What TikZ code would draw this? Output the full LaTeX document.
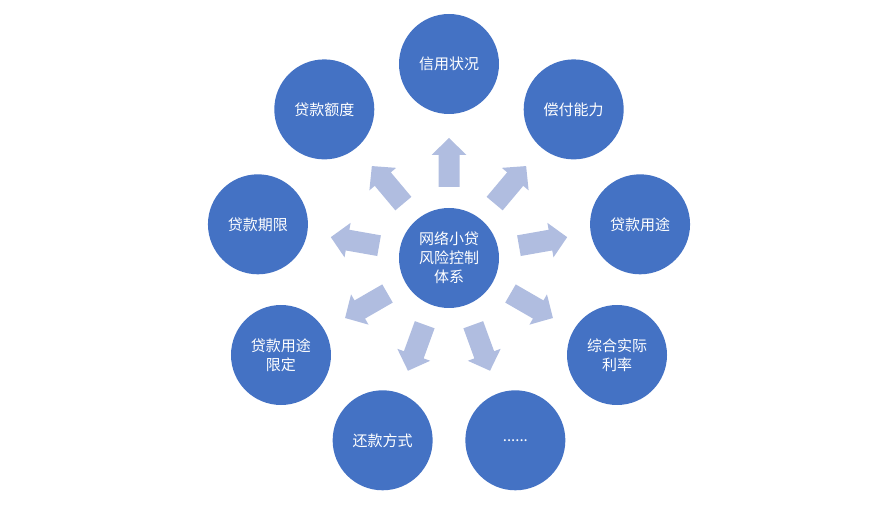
\documentclass[tikz,border=0pt]{standalone}
\usepackage{fontspec}
\newfontfamily\cjk{Noto Sans CJK SC}
\usetikzlibrary{calc}
\definecolor{ballblue}{RGB}{68,114,196}
\definecolor{arrowblue}{RGB}{176,189,224}
\begin{document}
\begin{tikzpicture}[x=1pt, y=1pt,
  ball/.style={circle, fill=ballblue, minimum size=100pt, inner sep=0pt, text=white,
    align=center, font=\cjk\fontsize{15}{19}\selectfont}]
  \useasboundingbox (0,0) rectangle (871,523);
  \node[ball] (hub) at (449,265) {网络小贷\\风险控制\\体系};
  % outer balls and the block arrows towards them
  \foreach \name/\ang/\txt in {xinyong/90/{信用状况}, changfu/50/{偿付能力}, yongtu/10/{贷款用途},
      lilv/-30/{综合实际\\利率}, more/-70/{......}, huankuan/-110/{还款方式},
      xianding/-150/{贷款用途\\限定}, qixian/170/{贷款期限}, edu/130/{贷款额度}} {
    \node[ball] (\name) at ($(hub)+(\ang:194)$) {\txt};
    \fill[arrowblue, shift={(hub.center)}, rotate=\ang] (71,-10.5) -- (103,-10.5) -- (103,-17.5)
      -- (120,0) -- (103,17.5) -- (103,10.5) -- (71,10.5) -- cycle;
  }
\end{tikzpicture}
\end{document}
